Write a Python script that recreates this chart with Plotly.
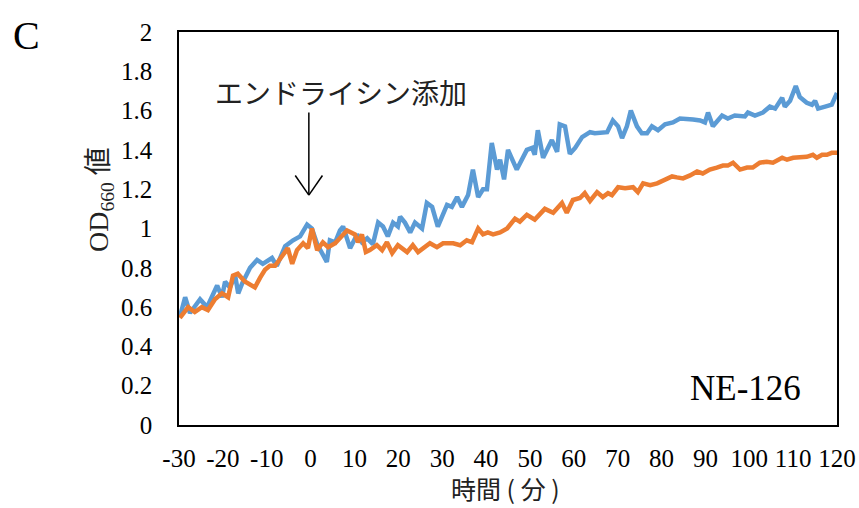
import plotly.graph_objects as go

# Blue series (time in minutes, OD660)
blue_t = [-29.8, -28.6, -27.5, -25.2, -23.6, -21.3, -20.2, -19.5, -18.4, -17.2, -16.5, -15.6,
          -13.8, -12.2, -10.9, -8.8, -7.7, -5.8, -4.0, -2.4, -0.8, 0.3, 1.5, 2.6, 3.7, 4.4,
          5.6, 6.7, 7.4, 9.0, 10.6, 11.7, 12.9, 14.2, 15.4, 16.5, 17.6, 18.8, 19.9, 20.4,
          21.5, 22.7, 23.8, 25.4, 26.5, 27.7, 29.0, 31.1, 32.2, 33.4, 34.5, 35.9, 37.0,
          38.2, 39.3, 40.2, 41.3, 42.5, 43.2, 44.1, 45.0, 47.0, 49.3, 50.5, 51.1, 51.8,
          53.0, 55.0, 56.2, 56.8, 58.0, 59.1, 60.3, 61.9, 63.7, 64.8, 66.4, 67.6, 68.9,
          70.1, 71.0, 72.1, 73.0, 74.4, 75.5, 76.7, 77.8, 79.2, 80.8, 82.6, 84.2, 85.8,
          87.2, 88.8, 89.9, 90.6, 91.7, 93.8, 95.1, 96.7, 98.3, 99.0, 99.7, 101.3, 103.1,
          104.7, 105.9, 107.5, 108.1, 109.3, 110.6, 111.5, 113.1, 114.3, 115.0, 115.7,
          117.3, 118.8, 120.0]
blue_v = [0.55, 0.65, 0.57, 0.64, 0.60, 0.71, 0.65, 0.73, 0.70, 0.76, 0.67, 0.72,
          0.80, 0.84, 0.82, 0.85, 0.81, 0.91, 0.94, 0.96, 1.02, 1.00, 0.92, 0.88, 0.83, 0.94,
          0.93, 0.99, 1.01, 0.90, 0.97, 0.93, 0.95, 0.92, 1.03, 1.01, 0.96, 1.03, 1.01, 1.06,
          1.03, 0.98, 1.03, 1.00, 1.13, 1.11, 1.01, 1.12, 1.11, 1.16, 1.11, 1.17, 1.30,
          1.16, 1.20, 1.20, 1.435, 1.30, 1.35, 1.25, 1.40, 1.30, 1.40, 1.41, 1.375, 1.50,
          1.36, 1.45, 1.39, 1.53, 1.52, 1.38, 1.41, 1.465, 1.49, 1.485, 1.49, 1.49, 1.55,
          1.52, 1.46, 1.52, 1.60, 1.52, 1.485, 1.485, 1.52, 1.50, 1.53, 1.54, 1.56, 1.56,
          1.555, 1.55, 1.54, 1.59, 1.52, 1.575, 1.56, 1.575, 1.575, 1.57, 1.59, 1.575, 1.59,
          1.62, 1.61, 1.665, 1.62, 1.65, 1.725, 1.67, 1.64, 1.63, 1.65, 1.61,
          1.62, 1.63, 1.69]

# Orange series
orange_t = [-29.8, -27.9, -26.4, -24.8, -23.4, -21.8, -20.2, -18.8, -17.7, -16.6, -15.0,
            -12.7, -11.5, -10.4, -9.3, -8.1, -6.3, -5.2, -4.2, -3.1, -1.7, -0.6, 0.3, 1.5,
            2.8, 4.0, 5.6, 7.4, 8.3, 10.1, 10.8, 11.7, 12.6, 13.5, 15.1, 16.3, 17.4, 18.6,
            19.9, 22.0, 23.3, 24.5, 26.1, 27.2, 28.8, 30.2, 32.5, 34.1, 35.6, 36.8, 38.2,
            39.3, 40.4, 41.6, 43.2, 44.8, 46.6, 47.7, 49.3, 51.1, 53.4, 55.3, 57.3, 58.4,
            59.8, 61.4, 62.5, 63.7, 65.3, 66.6, 67.8, 68.7, 70.1, 71.7, 73.5, 74.6, 75.8,
            77.4, 79.0, 80.3, 82.4, 83.5, 84.9, 86.5, 88.1, 89.4, 91.0, 92.6, 94.0, 95.1,
            96.3, 97.9, 99.5, 100.8, 102.4, 104.0, 105.4, 107.5, 108.6, 110.0, 111.5, 113.1,
            114.5, 115.4, 116.6, 117.7, 118.8, 120.0]
orange_v = [0.545, 0.60, 0.575, 0.60, 0.585, 0.64, 0.67, 0.65, 0.76, 0.77, 0.73,
            0.70, 0.75, 0.79, 0.81, 0.81, 0.865, 0.90, 0.82, 0.89, 0.925, 0.90, 1.00, 0.89,
            0.93, 0.905, 0.925, 0.965, 0.99, 0.97, 0.93, 0.97, 0.88, 0.89, 0.915, 0.89, 0.93,
            0.875, 0.915, 0.88, 0.915, 0.88, 0.905, 0.925, 0.905, 0.925, 0.925, 0.915, 0.94,
            0.93, 1.00, 0.97, 0.98, 0.97, 0.98, 1.00, 1.05, 1.035, 1.07, 1.045, 1.10, 1.08,
            1.13, 1.08, 1.145, 1.155, 1.18, 1.14, 1.185, 1.16, 1.18, 1.17, 1.21, 1.205, 1.21,
            1.185, 1.23, 1.22, 1.23, 1.245, 1.265, 1.26, 1.255, 1.27, 1.29, 1.28, 1.30, 1.31,
            1.32, 1.32, 1.335, 1.30, 1.31, 1.31, 1.335, 1.34, 1.335, 1.36, 1.35, 1.36, 1.36,
            1.365, 1.375, 1.36, 1.375, 1.375, 1.385, 1.385]

x_ticks = [-30, -20, -10, 0, 10, 20, 30, 40, 50, 60, 70, 80, 90, 100, 110, 120]
x_tick_text = ["-30", "-20", "-10", "0", "10", "20", "30", "40", "50", "60", "70", "80",
               "90", "100", "110", "120"]
y_ticks = [0, 0.2, 0.4, 0.6, 0.8, 1, 1.2, 1.4, 1.6, 1.8, 2]
y_tick_text = ["0", "0.2", "0.4", "0.6", "0.8", "1", "1.2", "1.4", "1.6", "1.8", "2"]

BLUE = "#5B9BD5"
ORANGE = "#ED7D31"
SERIF = "Liberation Serif, Noto Sans CJK JP"
CJK = "Noto Sans CJK JP"

W, H = 859, 508
L, R, T, B = 179, 22, 32, 83
PW, PH = W - L - R, H - T - B


def px_x(p):
    return (p - L) / PW


def px_y(p):
    return (H - B - p) / PH


fig = go.Figure()
fig.add_trace(go.Scatter(x=blue_t, y=blue_v, mode="lines",
                         line=dict(color=BLUE, width=4.5), showlegend=False))
fig.add_trace(go.Scatter(x=orange_t, y=orange_v, mode="lines",
                         line=dict(color=ORANGE, width=4.5), showlegend=False))

# Arrow (open V head)
ax = -0.4
fig.add_shape(type="line", x0=ax, x1=ax, y0=1.59, y1=1.17,
              line=dict(color="black", width=1.5))
fig.add_shape(type="line", x0=ax - 3.1, x1=ax, y0=1.27, y1=1.17,
              line=dict(color="black", width=1.5))
fig.add_shape(type="line", x0=ax + 3.1, x1=ax, y0=1.27, y1=1.17,
              line=dict(color="black", width=1.5))

common = dict(showarrow=False, xanchor="center", yanchor="middle")
fig.add_annotation(x=7, y=1.695, xref="x", yref="y", text="エンドライシン添加",
                   font=dict(family=CJK, size=28, color="#222222"), **common)
fig.add_annotation(x=px_x(745), y=px_y(388), xref="paper", yref="paper", text="NE-126",
                   font=dict(family=SERIF, size=35, color="black"), **common)
fig.add_annotation(x=px_x(505), y=px_y(488), xref="paper", yref="paper",
                   text="時間 ( 分 )",
                   font=dict(family=CJK, size=25, color="#222222"), **common)
fig.add_annotation(x=px_x(100), y=px_y(200), xref="paper", yref="paper",
                   text="OD<sub>660</sub> 値", textangle=-90,
                   font=dict(family=SERIF, size=28, color="#222222"), **common)
fig.add_annotation(x=px_x(26), y=px_y(35), xref="paper", yref="paper", text="C",
                   font=dict(family=SERIF, size=40, color="black"), **common)

fig.update_layout(
    width=W, height=H,
    margin=dict(l=L, r=R, t=T, b=B, autoexpand=False),
    paper_bgcolor="white", plot_bgcolor="white",
    xaxis=dict(range=[-30, 120], tickmode="array", tickvals=x_ticks, ticktext=x_tick_text,
               showgrid=False, zeroline=False, showline=True, mirror=True,
               linecolor="black", linewidth=1.5, ticks="", automargin=False,
               tickfont=dict(family=SERIF, size=25, color="black"),
               ticklabelstandoff=10),
    yaxis=dict(range=[0, 2], tickmode="array", tickvals=y_ticks, ticktext=y_tick_text,
               showgrid=False, zeroline=False, showline=True, mirror=True,
               linecolor="black", linewidth=1.5, ticks="", automargin=False,
               tickfont=dict(family=SERIF, size=25, color="black"),
               ticklabelstandoff=20),
)

fig.write_html("out.html", config={"displayModeBar": False},
               post_script="document.body.style.margin='0';document.body.style.overflow='hidden';")
